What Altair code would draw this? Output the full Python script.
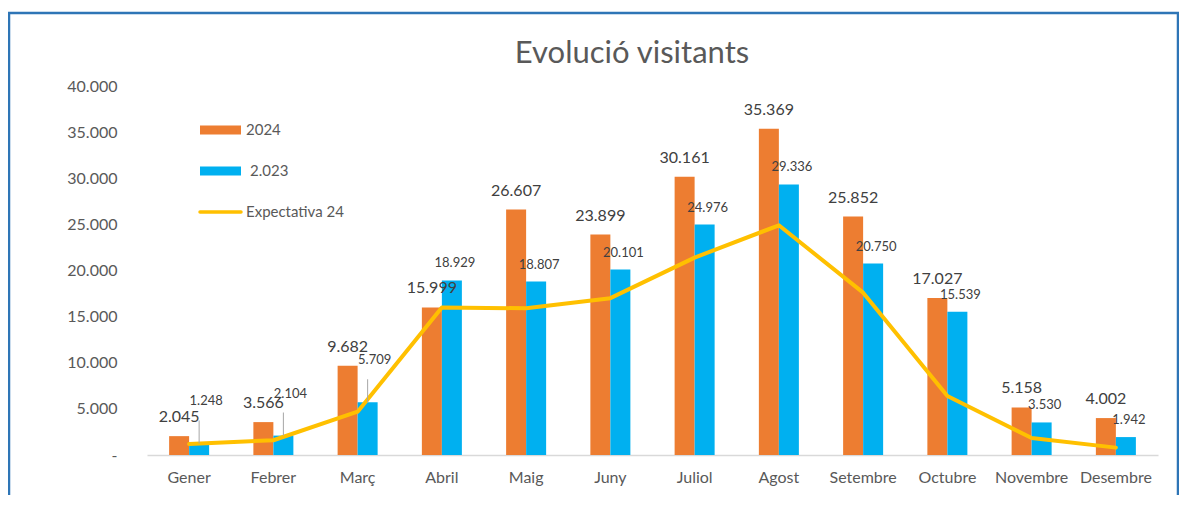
import altair as alt
import pandas as pd

months = ["Gener", "Febrer", "Març", "Abril", "Maig", "Juny", "Juliol",
          "Agost", "Setembre", "Octubre", "Novembre", "Desembre"]
v2024 = [2045, 3566, 9682, 15999, 26607, 23899, 30161, 35369, 25852, 17027, 5158, 4002]
v2023 = [1248, 2104, 5709, 18929, 18807, 20101, 24976, 29336, 20750, 15539, 3530, 1942]
expect24 = [1200, 1600, 4700, 16000, 15900, 17000, 21400, 24900, 17600, 6400, 1850, 800]
series = ["2024", "2.023", "Expectativa 24"]
colors = ["#ED7D31", "#00B0F0", "#FFC000"]
y_ticks = [0, 5000, 10000, 15000, 20000, 25000, 30000, 35000, 40000]
title_text = "Evolució visitants"
lifted = ["Gener", "Febrer", "Març"]  # 2023 labels moved up with leader lines

FONT = "Lato"
W, H = 1011, 369

bars = pd.DataFrame({
    "month": months * 2,
    "series": [series[0]] * 12 + [series[1]] * 12,
    "value": v2024 + v2023,
})
bars["label"] = bars["value"].map(lambda v: f"{v:,}".replace(",", "."))
line_df = pd.DataFrame({"month": months, "value": expect24})

xscale = alt.Scale(domain=months, paddingInner=0.525, paddingOuter=0.2625)
yscale = alt.Scale(domain=[0, 40000], nice=False)
cscale = alt.Scale(domain=series, range=colors)
xoff = alt.XOffset("series:N", sort=series[:2], scale=alt.Scale(domain=series[:2]))

x_enc = alt.X("month:N", scale=xscale, sort=months, title=None,
              axis=alt.Axis(labelAngle=0, ticks=False, domainColor="#D9D9D9",
                            domainWidth=1.5, labelFont=FONT, labelFontSize=16,
                            labelColor="#595959", labelPadding=14))
y_enc = alt.Y("value:Q", scale=yscale, title=None,
              axis=alt.Axis(values=y_ticks, grid=False, ticks=False, domain=False,
                            labelFont=FONT, labelFontSize=16, labelColor="#595959",
                            labelPadding=30,
                            labelExpr="datum.value == 0 ? '-\u00a0\u00a0\u00a0\u00a0' : replace(format(datum.value, ','), ',', '.')"))
x_plain = alt.X("month:N", scale=xscale, sort=months)
y_plain = alt.Y("value:Q", scale=yscale)

base = alt.Chart(bars)

bar_layer = base.mark_bar(size=20).encode(
    x=x_enc, y=y_enc, xOffset=xoff,
    color=alt.Color("series:N", scale=cscale, legend=None),
)

lab24 = base.transform_filter(alt.datum.series == series[0]).mark_text(
    font=FONT, fontSize=16, color="#404040", baseline="middle", dy=-19
).encode(x=x_plain, xOffset=xoff, y=y_plain, text="label:N")

is23 = alt.datum.series == series[1]
lifted_f = alt.FieldOneOfPredicate(field="month", oneOf=lifted)

lab23 = base.transform_filter(is23).transform_filter(~lifted_f).mark_text(
    font=FONT, fontSize=13, color="#404040", baseline="middle", dy=-17, dx=3
).encode(x=x_plain, xOffset=xoff, y=y_plain, text="label:N")

lab23_up = base.transform_filter(is23).transform_filter(lifted_f).mark_text(
    font=FONT, fontSize=13, color="#404040", baseline="middle", dy=-42, dx=7
).encode(x=x_plain, xOffset=xoff, y=y_plain, text="label:N")

leaders = base.transform_filter(is23).transform_filter(lifted_f).transform_calculate(
    top="datum.value + 2500"
).mark_rule(color="#A6A6A6", strokeWidth=1, xOffset=3).encode(
    x=x_plain, xOffset=xoff, y=y_plain, y2="top:Q"
)

line_layer = alt.Chart(line_df).mark_line(color=colors[2], strokeWidth=4,
                                          strokeCap="round", strokeJoin="round").encode(
    x=x_plain, y=y_plain,
)

# legend (upper-left of the plot area)
leg_y = [44, 85, 126]
leg_layers = []
for i, s in enumerate(series):
    is_line = i == 2
    leg_layers.append(
        alt.Chart(pd.DataFrame({"s": [s]})).mark_rule(
            color=colors[i], strokeWidth=3.5 if is_line else 9,
            strokeCap="round" if is_line else "butt"
        ).encode(x=alt.value(53), x2=alt.value(94), y=alt.value(leg_y[i]))
    )
    leg_layers.append(
        alt.Chart(pd.DataFrame({"s": [s]})).mark_text(
            font=FONT, fontSize=15, color="#595959", align="left", baseline="middle"
        ).encode(x=alt.value(99 if i != 1 else 103), y=alt.value(leg_y[i]), text="s:N")
    )

title_layer = alt.Chart(pd.DataFrame({"t": [title_text]})).mark_text(
    font=FONT, fontSize=31, color="#595959", align="center", baseline="alphabetic"
).encode(x=alt.value(485), y=alt.value(-23), text="t:N")

# outer frame
frame = alt.Chart(pd.DataFrame({"s": ["f"]})).mark_rect(
    fill=None, stroke="#2E75B6", strokeWidth=2.5, clip=False
).encode(x=alt.value(-138), x2=alt.value(1031), y=alt.value(-73), y2=alt.value(440))

chart = alt.layer(
    frame, bar_layer, line_layer, leaders, lab24, lab23, lab23_up, title_layer, *leg_layers
).properties(
    width=W, height=H,
    autosize=alt.AutoSizeParams(type="none"),
    padding={"left": 139, "top": 78, "right": 21, "bottom": 40},
).configure(background="white").configure_view(strokeWidth=0, stroke=None)

chart.save("out.html", embed_options={"renderer": "svg", "actions": False})
